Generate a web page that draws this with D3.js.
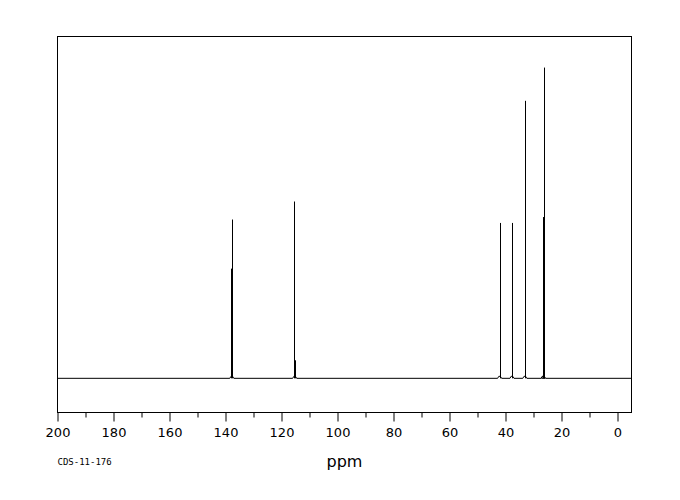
<!DOCTYPE html>
<html>
<head>
<meta charset="utf-8">
<script src="https://cdn.jsdelivr.net/npm/d3@7"></script>
<style>
  html, body { margin: 0; padding: 0; background: #fff; }
  svg { display: block; }
</style>
</head>
<body>
<svg id="chart" width="680" height="500"></svg>
<script>
// Peak positions (ppm) and relative intensities (tallest = 100)
const peakShifts      = [137.6, 137.9, 115.4, 115.2, 42.1, 37.7, 33.1, 26.4, 26.6];
const peakIntensities = [51.1,  35.3,  56.9,  5.8,   50.0, 50.0, 89.3, 100.0, 51.9];
const tickValues      = [200, 180, 160, 140, 120, 100, 80, 60, 40, 20, 0];
const minorTickValues = [190, 170, 150, 130, 110, 90, 70, 50, 30, 10];
const axisLabel = "ppm";
const sampleId  = "CDS-11-176";

const svg = d3.select("#chart");
const plotL = 57.5, plotR = 631.5, plotT = 36.5, plotB = 412.5;

const x = d3.scaleLinear().domain([200, -5]).range([plotL, plotR]);
const y = d3.scaleLinear().domain([-11, 110]).range([plotB, plotT]);

// frame
svg.append("rect")
  .attr("x", plotL).attr("y", plotT)
  .attr("width", plotR - plotL).attr("height", plotB - plotT)
  .attr("fill", "none").attr("stroke", "#000").attr("stroke-width", 1);

// major ticks + labels
const xAxis = d3.axisBottom(x).tickValues(tickValues).tickSize(9).tickPadding(6)
  .tickFormat(d3.format("d"));
const gx = svg.append("g").attr("transform", `translate(0,${plotB})`).call(xAxis);
gx.select(".domain").remove();
gx.selectAll(".tick line").attr("stroke", "#000");
gx.selectAll(".tick text")
  .attr("font-family", "DejaVu Sans, sans-serif")
  .attr("font-size", 13).attr("fill", "#000");

// minor ticks
const gm = svg.append("g").attr("transform", `translate(0,${plotB})`)
  .call(d3.axisBottom(x).tickValues(minorTickValues).tickSize(5).tickFormat(""));
gm.select(".domain").remove();
gm.selectAll(".tick line").attr("stroke", "#000");

// baseline with small bumps at peak feet
const base0 = y(0);
const clusters = Array.from(new Set(peakShifts.map(d => Math.round(d)))).map(r => {
  const members = peakShifts.filter(p => Math.round(p) === r);
  return d3.mean(members);
}).sort((a, b) => b - a);
const basePts = [[x(200), base0]];
clusters.forEach(c => {
  const px = x(c);
  basePts.push([px - 2, base0], [px - 0.8, base0 - 2], [px + 0.8, base0 - 2], [px + 2, base0]);
});
basePts.push([x(-5), base0]);
svg.append("path")
  .attr("d", d3.line()(basePts))
  .attr("fill", "none").attr("stroke", "#000").attr("stroke-width", 1);

// peak lines
svg.append("g").selectAll("line")
  .data(peakShifts.map((s, i) => ({ s, v: peakIntensities[i] })))
  .join("line")
  .attr("x1", d => Math.round(x(d.s)) + 0.5)
  .attr("x2", d => Math.round(x(d.s)) + 0.5)
  .attr("y1", base0)
  .attr("y2", d => y(d.v))
  .attr("stroke", "#000").attr("stroke-width", 1);

// axis title
svg.append("text")
  .attr("x", (plotL + plotR) / 2).attr("y", 467)
  .attr("text-anchor", "middle")
  .attr("font-family", "DejaVu Sans, sans-serif")
  .attr("font-size", 16).attr("fill", "#000")
  .text(axisLabel);

// sample id
svg.append("text")
  .attr("x", plotL).attr("y", 465)
  .attr("font-family", "DejaVu Sans Mono, monospace")
  .attr("font-size", 9).attr("fill", "#000")
  .text(sampleId);
</script>
</body>
</html>
